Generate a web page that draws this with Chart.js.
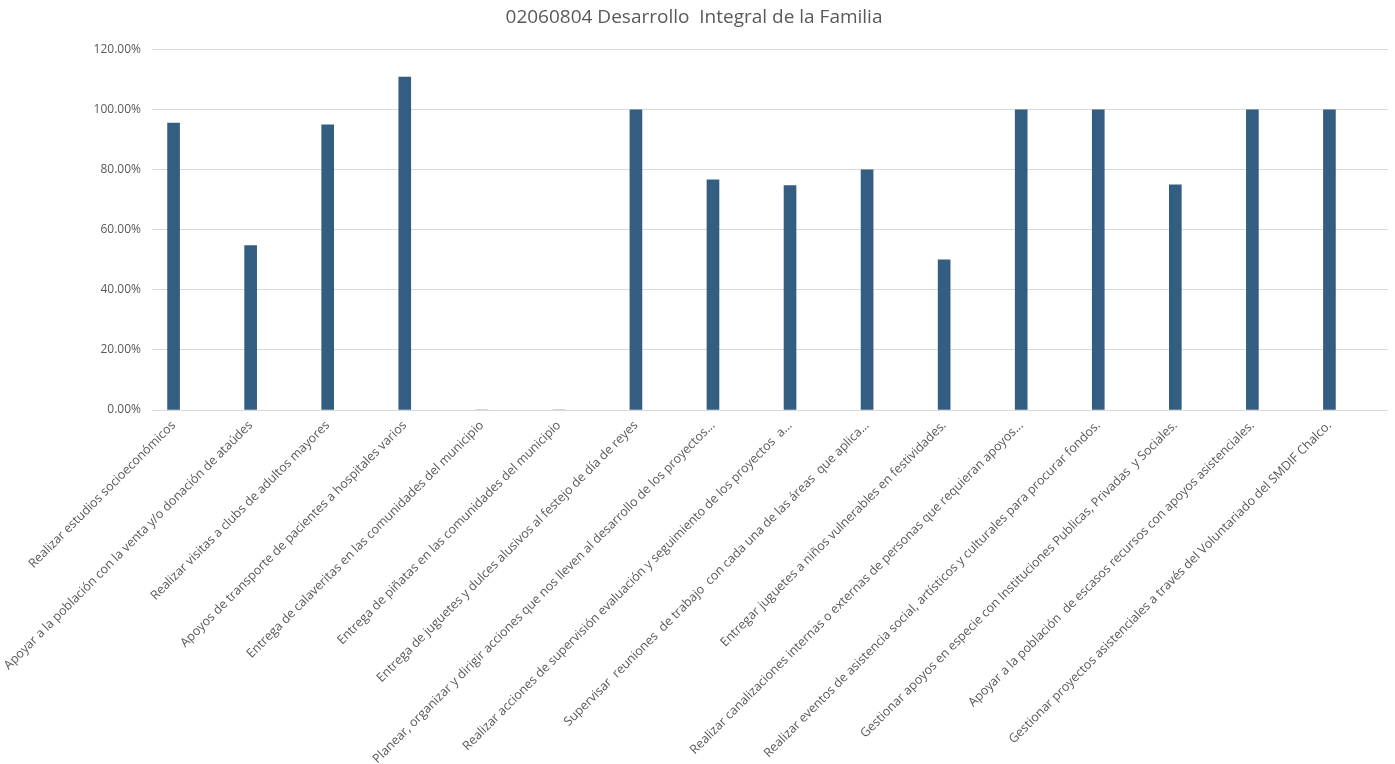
<!DOCTYPE html>
<html>
<head>
<meta charset="utf-8">
<script src="https://cdn.jsdelivr.net/npm/chart.js@4/dist/chart.umd.min.js"></script>
<style>
html,body{margin:0;padding:0;background:#fff;}
#wrap{width:1395px;height:764px;position:relative;}
</style>
</head>
<body>
<div id="wrap"><canvas id="c" width="1395" height="764"></canvas></div>
<script>
const title = "02060804 Desarrollo  Integral de la Familia";
const categories = [
  "Realizar estudios socioeconómicos",
  "Apoyar a la población con la venta y/o donación de ataúdes",
  "Realizar visitas a clubs de adultos mayores",
  "Apoyos de transporte de pacientes a hospitales varios",
  "Entrega de calaveritas en las comunidades del municipio",
  "Entrega de piñatas en las comunidades del municipio",
  "Entrega de juguetes y dulces alusivos al festejo de día de reyes",
  "Planear, organizar y dirigir acciones que nos lleven al desarrollo de los proyectos...",
  "Realizar acciones de supervisión evaluación y seguimiento de los proyectos  a...",
  "Supervisar  reuniones  de trabajo  con cada una de las áreas  que aplica...",
  "Entregar juguetes a niños vulnerables en festividades.",
  "Realizar canalizaciones internas o externas de personas que requieran apoyos...",
  "Realizar eventos de asistencia social, artísticos y culturales para procurar fondos.",
  "Gestionar apoyos en especie con Instituciones Publicas, Privadas  y Sociales.",
  "Apoyar a la población  de escasos recursos con apoyos asistenciales.",
  "Gestionar proyectos asistenciales a través del Voluntariado del SMDIF Chalco."
];
const values = [95.6, 54.8, 95.0, 110.9, 0, 0, 100, 76.7, 74.8, 80.0, 50.0, 100, 100, 75.0, 100, 100];
const yTicks = [0, 20, 40, 60, 80, 100, 120];

const FONT = "'Open Sans', 'Noto Sans', sans-serif";
const GREY = '#595959';

new Chart(document.getElementById('c'), {
  type: 'bar',
  data: {
    datasets: [{
      data: values.map((v, i) => ({x: i, y: v})),
      backgroundColor: '#345d82',
      borderWidth: 0,
      barThickness: 12
    }]
  },
  options: {
    responsive: false,
    animation: false,
    layout: {padding: {left: 0, right: 7, top: 0, bottom: 0}},
    plugins: {
      legend: {display: false},
      tooltip: {enabled: false},
      title: {
        display: true,
        text: title,
        color: GREY,
        font: {family: FONT, size: 19, weight: 'normal'},
        padding: {top: 6, bottom: 21}
      }
    },
    scales: {
      x: {
        type: 'linear',
        offset: false,
        min: -0.28,
        max: 15.76,
        grid: {display: false, drawTicks: false, offset: false},
        border: {display: false},
        afterBuildTicks: (axis) => { axis.ticks = categories.map((c, i) => ({value: i})); },
        afterFit: (axis) => { axis.height = 354; },
        ticks: {
          autoSkip: false,
          minRotation: 45,
          maxRotation: 45,
          padding: 8,
          color: GREY,
          font: {family: FONT, size: 12.5},
          callback: (v) => categories[v]
        }
      },
      y: {
        min: 0,
        max: 120,
        afterBuildTicks: (axis) => { axis.ticks = yTicks.map(v => ({value: v})); },
        afterFit: (axis) => { axis.width = 152; },
        grid: {color: '#d9d9d9', drawTicks: false, lineWidth: 1},
        border: {display: false},
        ticks: {
          padding: 11,
          color: GREY,
          font: {family: FONT, size: 12},
          callback: (v) => v.toFixed(2) + '%'
        }
      }
    }
  }
});
</script>
</body>
</html>
